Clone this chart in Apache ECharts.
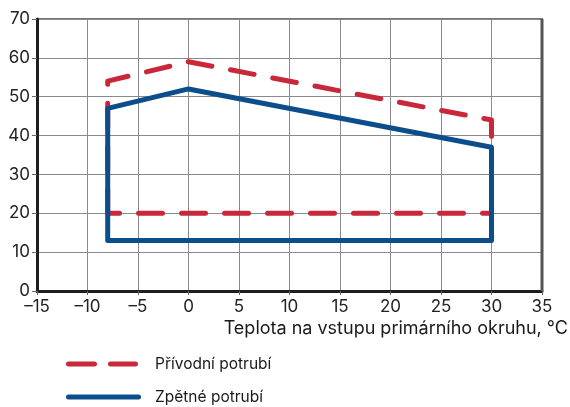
<!DOCTYPE html>
<html>
<head>
<meta charset="utf-8">
<script src="https://cdn.jsdelivr.net/npm/echarts@6/dist/echarts.min.js"></script>
<style>html,body{margin:0;padding:0;background:#fff}#c{width:570px;height:407px}</style>
</head>
<body>
<div id="c"></div>
<script>
const seriesNames = ["Přívodní potrubí", "Zpětné potrubí"];
const supplyX = [-8, -8, 0, 30, 30, -8];
const supplyY = [20, 54, 59, 44, 20, 20];
const returnX = [-8, -8, 0, 30, 30, -8];
const returnY = [13, 47, 52, 37, 13, 13];
const xTicks = { min: -15, max: 35, step: 5 };
const yTicks = { min: 0, max: 70, step: 10 };
const xAxisTitle = "Teplota na vstupu primárního okruhu, °C";

const pair = (xs, ys) => xs.map((x, i) => [x, ys[i]]);
const font = 'Inter, "Noto Sans", sans-serif';
const dashIcon = 'path://M2.5,0H28.5A2.5,2.5 0 0 1 28.5,5H2.5A2.5,2.5 0 0 1 2.5,0Z M44.5,0H69.5A2.5,2.5 0 0 1 69.5,5H44.5A2.5,2.5 0 0 1 44.5,0Z M75,2.5L75,2.5Z';
const solidIcon = 'path://M2.5,0H72.5A2.5,2.5 0 0 1 72.5,5H2.5A2.5,2.5 0 0 1 2.5,0Z';
const minus = v => String(v).replace('-', '–');
const chart = echarts.init(document.getElementById('c'));
chart.setOption({
  animation: false,
  grid: { left: 37, right: 28, top: 19, bottom: 116, show: true, borderColor: '#777', borderWidth: 2, backgroundColor: 'transparent' },
  title: { text: xAxisTitle, right: 2, top: 320, padding: 0, textStyle: { fontFamily: font, fontSize: 18, fontWeight: 'normal', color: '#1a1a1a' } },
  legend: {
    orient: 'vertical', left: 66, top: 356, padding: 0, itemGap: 17, itemWidth: 75, itemHeight: 5,
    textStyle: { fontFamily: font, fontSize: 15.5, color: '#1a1a1a', padding: [0, 0, 0, 9] },
    data: [
      { name: seriesNames[0], icon: dashIcon },
      { name: seriesNames[1], icon: solidIcon }
    ]
  },
  xAxis: {
    type: 'value', min: xTicks.min, max: xTicks.max, interval: xTicks.step,
    axisLine: { onZero: false, lineStyle: { color: '#1e1e1e', width: 3 } },
    axisTick: { show: true, length: 4, lineStyle: { color: '#666' } },
    axisLabel: { fontFamily: font, fontSize: 17, color: '#222', margin: 7, formatter: minus },
    splitLine: { lineStyle: { color: '#8a8a8a', width: 1 } }
  },
  yAxis: {
    type: 'value', min: yTicks.min, max: yTicks.max, interval: yTicks.step,
    axisLine: { show: true, onZero: false, lineStyle: { color: '#1e1e1e', width: 3 } },
    axisTick: { show: true, length: 5, lineStyle: { color: '#666' } },
    axisLabel: { fontFamily: font, fontSize: 17, color: '#222', margin: 7 },
    splitLine: { lineStyle: { color: '#8a8a8a', width: 1 } }
  },
  series: [
    {
      name: seriesNames[0], type: 'line', data: pair(supplyX, supplyY), showSymbol: false, symbol: 'none',
      lineStyle: { color: '#c8283a', width: 5, type: [24, 19], cap: 'round', join: 'round' },
      itemStyle: { color: '#c8283a' }, z: 2
    },
    {
      name: seriesNames[1], type: 'line', data: pair(returnX, returnY), showSymbol: false, symbol: 'none',
      lineStyle: { color: '#0c4e8c', width: 5, cap: 'round', join: 'round' },
      itemStyle: { color: '#0c4e8c' }, z: 3
    },
    {
      type: 'line', data: [[35, 0], [35, 70]], showSymbol: false, symbol: 'none', silent: true,
      lineStyle: { color: '#555', width: 3 }, z: 1
    }
  ]
});
</script>
</body>
</html>
